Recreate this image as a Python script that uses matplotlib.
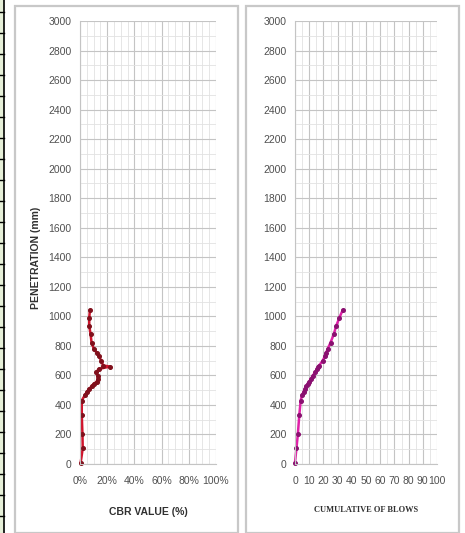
import matplotlib
matplotlib.use("Agg")
import matplotlib.pyplot as plt
from matplotlib.patches import Rectangle
from matplotlib.lines import Line2D
from matplotlib.ticker import MultipleLocator, PercentFormatter

plt.rcParams['font.family'] = ['Liberation Sans Narrow', 'Liberation Sans', 'DejaVu Sans']

# penetration readings (mm)
penetration = [10, 105, 200, 330, 430, 468, 488, 508, 526, 543, 557, 575, 598,
               620, 643, 660, 667, 700, 728, 755, 780, 822, 878, 935, 992, 1040]
# CBR value (%)
cbr = [0.5, 2.0, 1.8, 1.3, 1.3, 3.7, 5.0, 6.6, 8.5, 10.2, 12.2, 13.4, 12.9,
       11.7, 13.7, 22.0, 17.0, 15.6, 14.0, 12.2, 10.2, 8.5, 7.8, 6.8, 6.8, 7.3]
# cumulative blows
blows = [0, 1, 2, 3, 4, 5, 6, 7, 8, 9, 10, 11, 12.5, 14, 15.5, 16.3, 17,
         19.5, 21, 22, 23, 25, 27.3, 29, 31.3, 33.5]

fig = plt.figure(figsize=(4.65, 5.33), dpi=100)

# panel frames and the cropped sheet strip on the left
W, H = 465.0, 533.0
for x0, x1 in [(15, 238), (246, 459)]:
    fig.add_artist(Rectangle((x0 / W, 0.0), (x1 - x0) / W, (H - 6) / H,
                             transform=fig.transFigure, fill=False,
                             edgecolor='#c8c8c8', lw=1.6))
fig.add_artist(Rectangle((0, 0), 4 / W, 1, transform=fig.transFigure,
                         facecolor='#e6efd8', edgecolor='none'))
fig.add_artist(Line2D([4 / W, 4 / W], [0, 1], transform=fig.transFigure,
                      color='black', lw=1.2))
for yy in range(12, 533, 21):
    fig.add_artist(Line2D([0, 4 / W], [1 - yy / H, 1 - yy / H],
                          transform=fig.transFigure, color='black', lw=1.0))


def style(ax):
    ax.set_ylim(0, 3000)
    ax.yaxis.set_major_locator(MultipleLocator(200))
    ax.yaxis.set_minor_locator(MultipleLocator(100))
    ax.grid(which='major', color='#c4c4c4', lw=0.8)
    ax.grid(which='minor', color='#e2e2e2', lw=0.6)
    ax.set_axisbelow(True)
    for s in ['top', 'right']:
        ax.spines[s].set_visible(False)
    for s in ['left', 'bottom']:
        ax.spines[s].set_color('#c4c4c4')
        ax.spines[s].set_linewidth(0.8)
    ax.tick_params(which='both', length=0, labelsize=7.5, colors='#505050', pad=6)
    ax.tick_params(axis='x', pad=9)


ax1 = fig.add_axes([80 / W, 1 - 464 / H, 136 / W, 443 / H])
style(ax1)
ax1.set_xlim(0, 100)
ax1.xaxis.set_major_locator(MultipleLocator(20))
ax1.xaxis.set_minor_locator(MultipleLocator(5))
ax1.xaxis.set_major_formatter(PercentFormatter(decimals=0))
ax1.plot(cbr, penetration, color='#d0142c', lw=1.8, marker='o', ms=2.6,
         mfc='#80101c', mec='#80101c', clip_on=False)
ax1.set_ylabel('PENETRATION (mm)', fontsize=7.5, fontweight='bold',
               color='#303030')
ax1.yaxis.set_label_coords(-0.29, 0.465)
ax1.set_xlabel('CBR VALUE (%)', fontsize=7.5, fontweight='bold',
               color='#303030', labelpad=15)

ax2 = fig.add_axes([295 / W, 1 - 464 / H, 142 / W, 443 / H])
style(ax2)
ax2.set_xlim(0, 100)
ax2.xaxis.set_major_locator(MultipleLocator(10))
ax2.xaxis.set_minor_locator(MultipleLocator(5))
ax2.plot(blows, penetration, color='#e020a8', lw=1.8, marker='o', ms=2.6,
         mfc='#8a1070', mec='#8a1070', clip_on=False)
ax2.set_xlabel('CUMULATIVE OF BLOWS', fontsize=6, fontweight='bold',
               family='Liberation Serif', color='#303030', labelpad=14)

fig.savefig('out.png', dpi=100)
